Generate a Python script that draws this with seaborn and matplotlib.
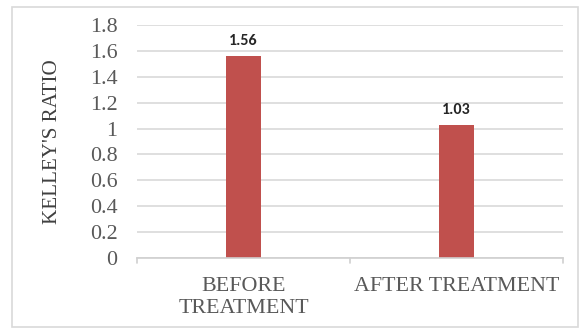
import matplotlib
matplotlib.use("Agg")
import matplotlib.pyplot as plt
import seaborn as sns
import pandas as pd
from matplotlib.patches import Rectangle

categories = ["BEFORE\nTREATMENT", "AFTER TREATMENT"]
ratios = [1.56, 1.03]
value_labels = ["1.56", "1.03"]
y_ticks = [0, 0.2, 0.4, 0.6, 0.8, 1, 1.2, 1.4, 1.6, 1.8]
y_tick_labels = ["0", "0.2", "0.4", "0.6", "0.8", "1", "1.2", "1.4", "1.6", "1.8"]

sns.set_theme(style="white")
plt.rcParams["font.family"] = ["Liberation Serif", "DejaVu Serif"]

df = pd.DataFrame({"stage": categories, "ratio": ratios})

W, H = 584, 330
fig = plt.figure(figsize=(W / 100, H / 100), dpi=100)
fig.patch.set_facecolor("white")
ax = fig.add_axes([137 / W, 1 - 258 / H, (563 - 137) / W, (258 - 25) / H])

sns.barplot(data=df, x="stage", y="ratio", color="#c0504d", width=0.165,
            saturation=1, ax=ax, edgecolor="none")

ax.set_ylim(0, 1.8)
ax.set_xlim(-0.5, 1.5)
ax.set_yticks(y_ticks)
ax.set_yticklabels(y_tick_labels)
ax.yaxis.grid(True, color="#d9d9d9", linewidth=1.2)
ax.set_axisbelow(True)
for side in ["top", "right", "left"]:
    ax.spines[side].set_visible(False)
ax.spines["bottom"].set_color("#d0d0d0")
ax.spines["bottom"].set_linewidth(1.2)

ax.tick_params(axis="y", length=0, pad=14, labelsize=15.8, labelcolor="#595959")
ax.tick_params(axis="x", length=0, pad=14, labelsize=15.8, labelcolor="#595959")
ax.set_xlabel("")
ax.set_ylabel("KELLEY'S RATIO", fontsize=15.2, color="#404040", labelpad=20)

# category boundary ticks below the axis line
for xb in [-0.5, 0.5, 1.5]:
    ax.plot([xb, xb], [0, -0.04], color="#d0d0d0", lw=1.2, clip_on=False)

for i, (v, lab) in enumerate(zip(ratios, value_labels)):
    ax.text(i, v + 0.115, lab, ha="center", va="center", fontsize=11.5,
            fontweight="semibold",
            family=["Carlito", "Liberation Sans", "DejaVu Sans"],
            color="#262626")

fig.patches.append(Rectangle((12 / W, 3 / H), (578 - 12) / W, (325 - 5) / H,
                             transform=fig.transFigure, fill=False,
                             edgecolor="#d9d9d9", linewidth=1.2))

fig.savefig("out.png", dpi=100, facecolor="white")
